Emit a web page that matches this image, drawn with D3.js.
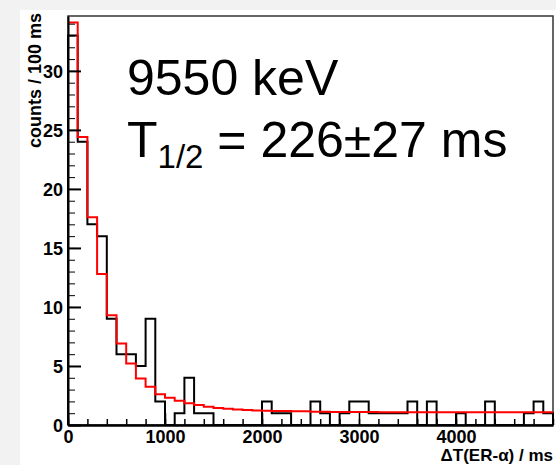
<!DOCTYPE html>
<html>
<head>
<meta charset="utf-8">
<title>decay time</title>
<style type="text/css">
	body { margin: 0; background: #f2f2f2; }
	svg { display: block; font-family: 'Liberation Sans', Arial, Helvetica, sans-serif; }
	.axis text { font-size: 18px; font-weight: bold; fill: #000; }
	.axis path, .axis line { stroke: #000; }
</style>
<script src="https://cdn.jsdelivr.net/npm/d3@7"></script>
</head>
<body>
<svg id="chart" width="556" height="465" xmlns="http://www.w3.org/2000/svg"></svg>

<script type="text/javascript">
	// counts per 100 ms bin, 0 - 5000 ms
	var binWidth = 100;
	var counts = [33, 24, 17, 16, 9, 6, 6, 5, 9, 2,
		0, 1, 4, 1, 1, 0, 0, 0, 0, 0,
		2, 1, 1, 0, 0, 2, 1, 0, 1, 2,
		2, 1, 1, 1, 1, 2, 0, 2, 0, 0,
		1, 0, 0, 2, 0, 0, 0, 1, 2, 1];
	// fitted curve (exp decay + background), per bin
	var fitValues = [34.1, 24.4, 17.6, 12.8, 9.3, 6.9, 5.2, 3.95, 3.25, 2.6,
		2.3, 2.05, 1.85, 1.7, 1.55, 1.45, 1.38, 1.32, 1.27, 1.23,
		1.2, 1.19, 1.18, 1.17, 1.16, 1.12, 1.12, 1.11, 1.11, 1.1,
		1.1, 1.1, 1.09, 1.09, 1.09, 1.09, 1.08, 1.08, 1.08, 1.08,
		1.08, 1.08, 1.07, 1.07, 1.07, 1.07, 1.07, 1.07, 1.07, 1.07];
	var xTicks = [0, 1000, 2000, 3000, 4000];
	var yTicks = [0, 5, 10, 15, 20, 25, 30];
	var labelLine1 = "9550 keV";
	var labelLine2 = ["T", "1/2", " = 226\u00b127 ms"];

	var svg = d3.select("#chart");

	// white canvas like the ROOT pad
	svg.append("rect").attr("x", 20).attr("y", 10).attr("width", 536).attr("height", 455).attr("fill", "#fff");

	var x = d3.scaleLinear().domain([0, 5000]).range([68, 553]);
	var y = d3.scaleLinear().domain([0, 34.65]).range([425, 16]);

	// frame
	svg.append("rect")
		.attr("x", x(0)).attr("y", y(34.65))
		.attr("width", x(5000) - x(0)).attr("height", y(0) - y(34.65))
		.attr("fill", "none").attr("stroke", "#333").attr("stroke-width", 1.5);

	// histogram outline
	var histPts = [[0, 0]];
	counts.forEach(function(v, i) { histPts.push([i * binWidth, v]); });
	histPts.push([counts.length * binWidth, counts[counts.length - 1]]);
	histPts.push([counts.length * binWidth, 0]);

	var stepLine = d3.line()
		.x(function(d) { return x(d[0]); })
		.y(function(d) { return y(d[1]); })
		.curve(d3.curveStepAfter);

	svg.append("path")
		.attr("d", stepLine(histPts))
		.attr("fill", "none").attr("stroke", "#000").attr("stroke-width", 2);

	var fitPts = fitValues.map(function(v, i) { return [i * binWidth, v]; });
	fitPts.push([fitValues.length * binWidth, fitValues[fitValues.length - 1]]);

	svg.append("path")
		.attr("d", stepLine(fitPts))
		.attr("fill", "none").attr("stroke", "#ff0000").attr("stroke-width", 2);

	// y axis: ticks inside
	var yMinor = d3.range(0, 35, 1);
	svg.append("g").attr("class", "axis")
		.attr("transform", "translate(" + x(0) + ",0)")
		.call(d3.axisLeft(y).tickValues(yMinor).tickFormat("").tickSizeInner(-7).tickSizeOuter(0))
		.call(function(g) { g.select(".domain").remove(); });
	svg.append("g").attr("class", "axis")
		.attr("transform", "translate(" + x(0) + ",0)")
		.call(d3.axisLeft(y).tickValues(yTicks).tickFormat(d3.format("d")).tickSizeInner(-13).tickSizeOuter(0).tickPadding(5))
		.call(function(g) {
			g.select(".domain").attr("stroke-width", 2);
			g.selectAll(".tick line").attr("stroke-width", 2);
			g.selectAll(".tick text").attr("dy", "0.36em");
		});

	// x axis
	var xMinor = d3.range(0, 5001, 200);
	svg.append("g").attr("class", "axis")
		.attr("transform", "translate(0," + y(0) + ")")
		.call(d3.axisBottom(x).tickValues(xMinor).tickFormat("").tickSizeInner(-6).tickSizeOuter(0))
		.call(function(g) { g.select(".domain").remove(); g.selectAll(".tick line").attr("stroke-width", 1.5); });
	svg.append("g").attr("class", "axis")
		.attr("transform", "translate(0," + y(0) + ")")
		.call(d3.axisBottom(x).tickValues(xTicks).tickFormat(d3.format("d")).tickSizeInner(-12).tickSizeOuter(0).tickPadding(5))
		.call(function(g) {
			g.select(".domain").attr("stroke-width", 2.5);
			g.selectAll(".tick line").attr("stroke-width", 1.5);
		});

	// axis titles
	svg.append("text")
		.attr("transform", "translate(41,13) rotate(-90)")
		.attr("text-anchor", "end")
		.attr("font-size", 18).attr("font-weight", "bold")
		.text("counts / 100 ms");

	svg.append("text")
		.attr("x", 553).attr("y", 461)
		.attr("text-anchor", "end")
		.attr("font-size", 17).attr("font-weight", "bold")
		.text("\u0394T(ER-\u03b1) / ms");

	// big annotation
	svg.append("text")
		.attr("x", 127).attr("y", 95)
		.attr("font-size", 50)
		.text(labelLine1);

	var t2 = svg.append("text").attr("x", 127).attr("y", 157).attr("font-size", 50);
	t2.append("tspan").text(labelLine2[0]);
	t2.append("tspan").attr("font-size", 33).attr("dy", 11).text(labelLine2[1]);
	t2.append("tspan").attr("dy", -11).text(labelLine2[2]);
</script>
</body>
</html>
